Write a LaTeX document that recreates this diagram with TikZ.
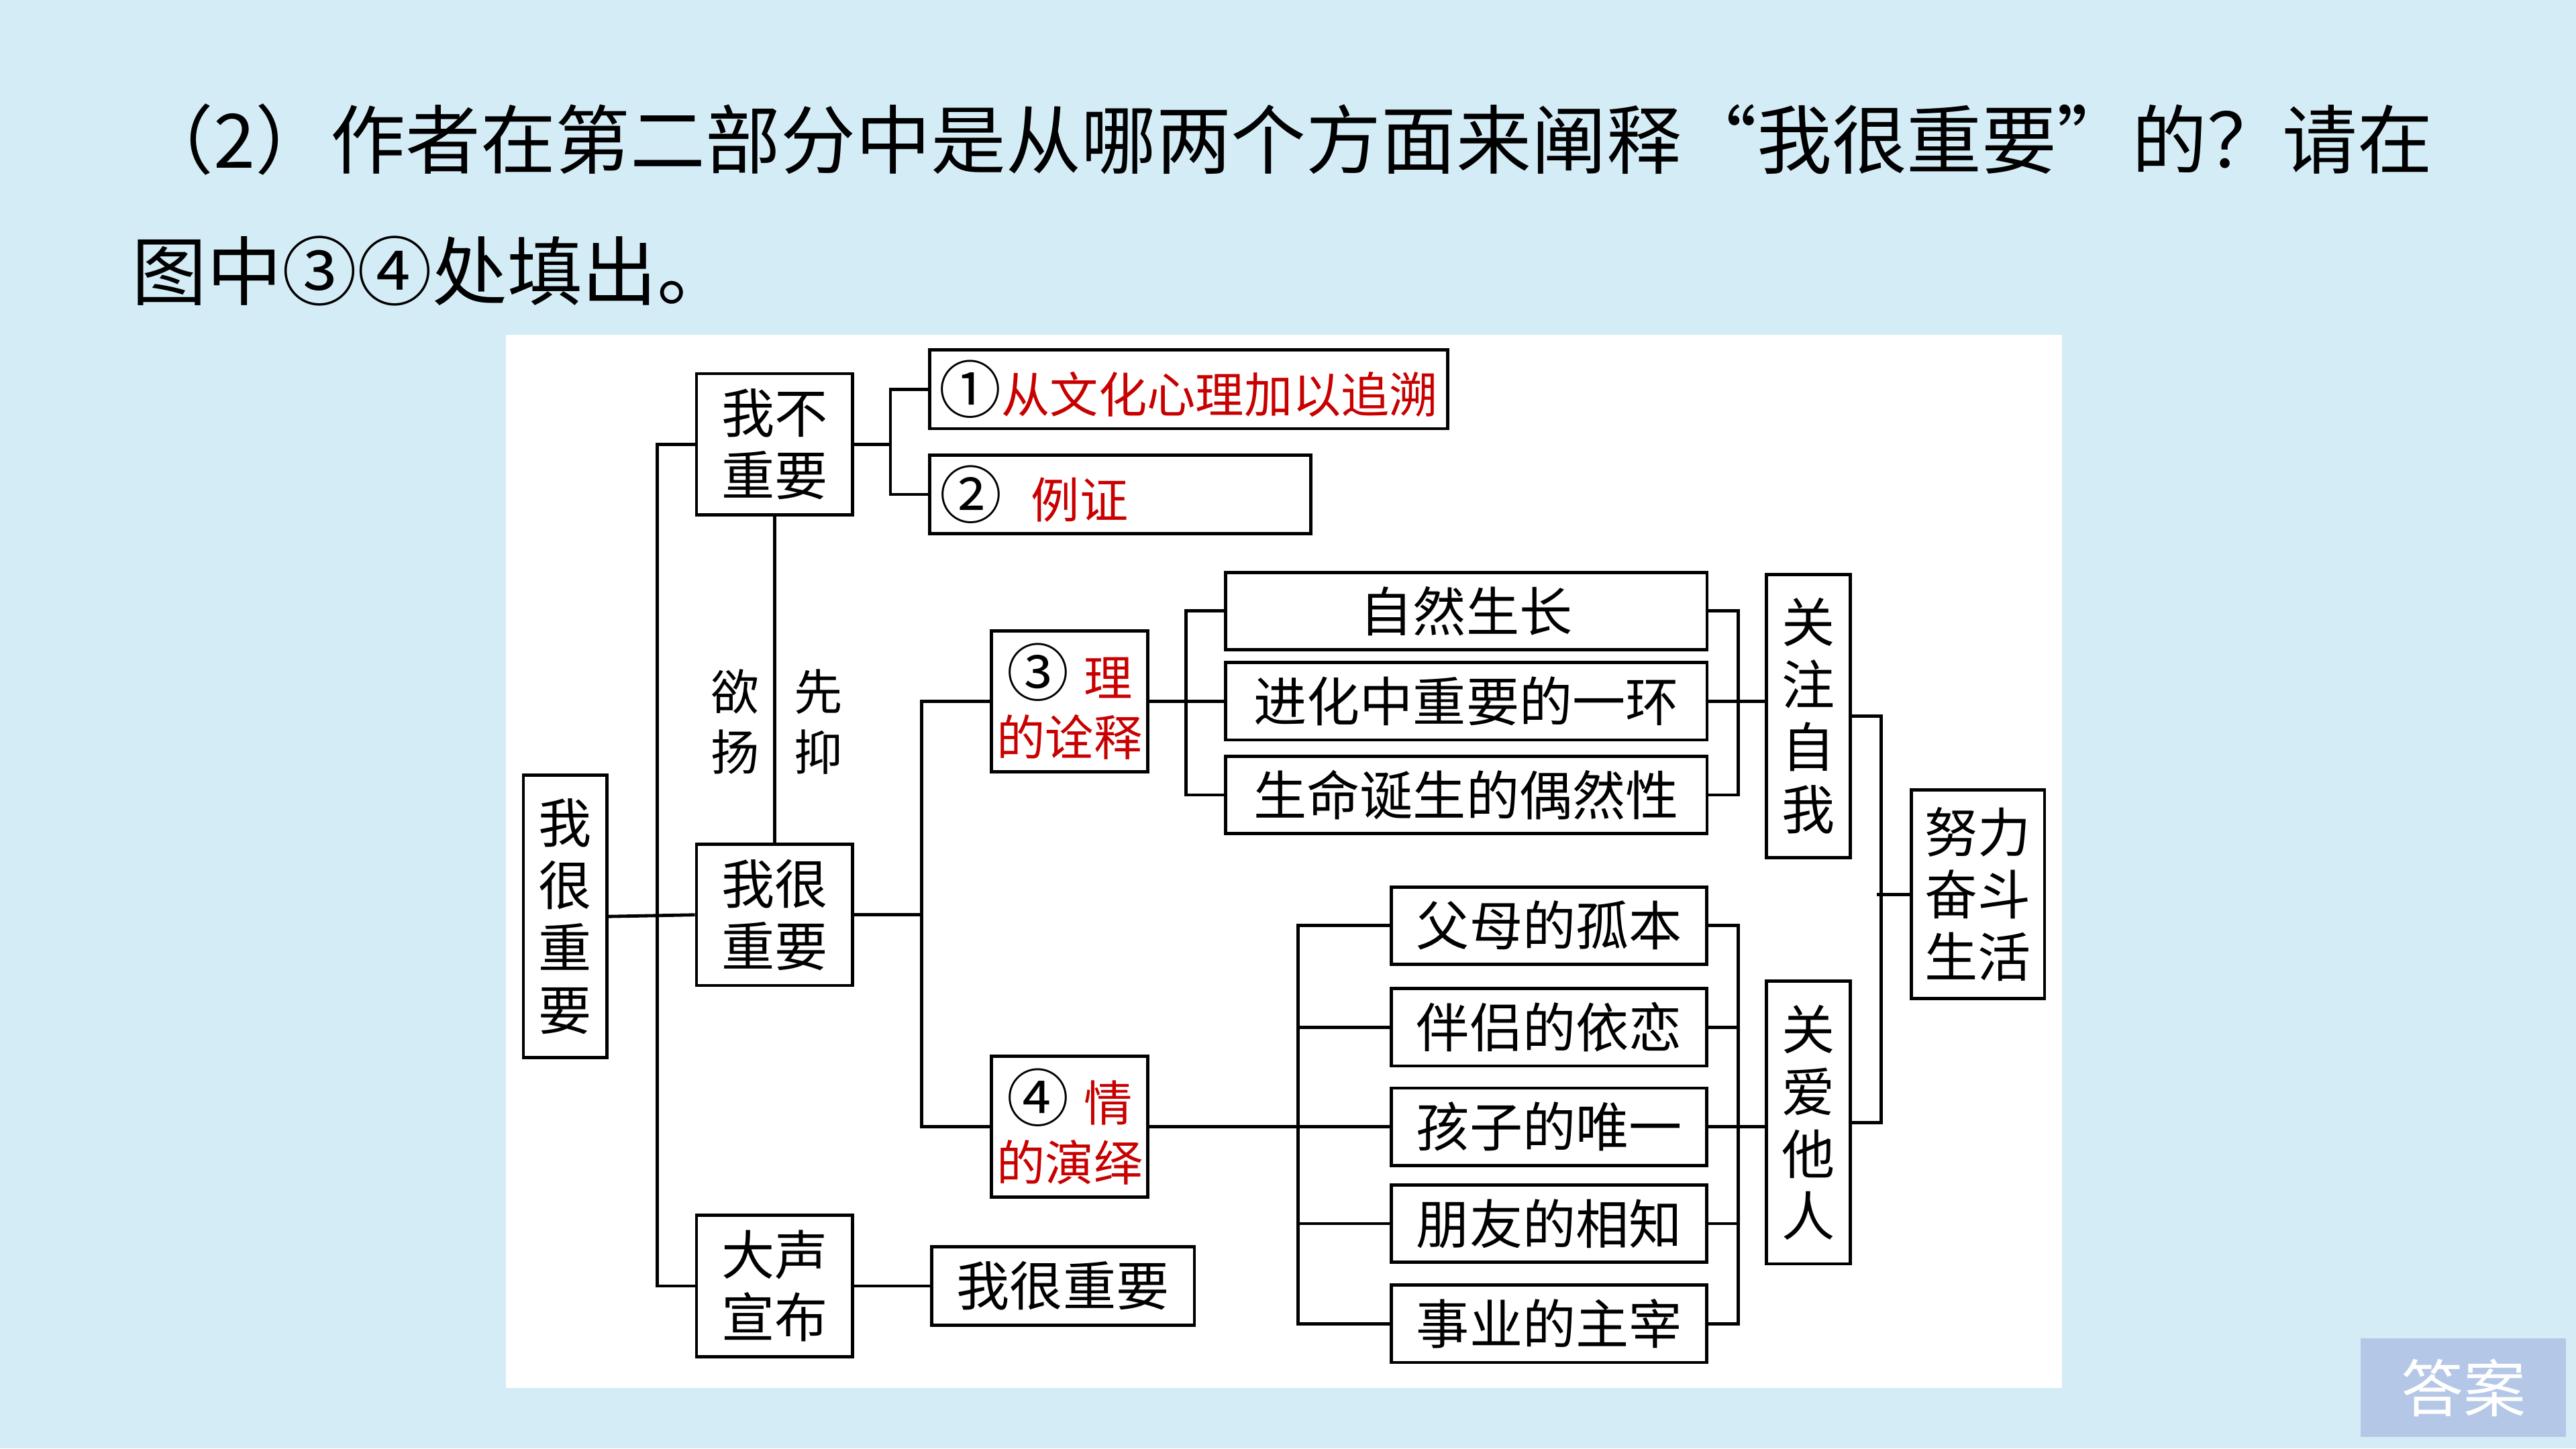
\documentclass[tikz,border=0pt]{standalone}
\usepackage{fontspec}
\setmainfont{Noto Sans CJK SC}
\usepackage{xcolor}
\usepackage{tikz}
\usetikzlibrary{positioning, calc}
\definecolor{mybg}{RGB}{212,236,246}
\definecolor{myred}{RGB}{200,0,0}
\definecolor{myblue}{RGB}{180,199,231}
\newcommand{\circnum}[1]{{\fontsize{27}{27}\selectfont #1}}
\tikzset{
  box/.style={rectangle, draw=black, fill=white, line width=1.4pt,
    inner sep=0pt, align=center, font=\fontsize{23}{27}\selectfont},
  vbox/.style={box, minimum width=1.27cm, minimum height=4.3cm},
  sqbox/.style={box, minimum width=2.375cm, minimum height=2.15cm},
  topbox/.style={box, minimum width=7.325cm, minimum height=1.175cm},
  botbox/.style={box, minimum width=4.8cm, minimum height=1.175cm},
  numbox/.style={box, minimum height=1.2cm, font=\fontsize{21}{25}\selectfont},
  redbox/.style={sqbox, font=\fontsize{21}{26}\selectfont},
  side/.style={inner sep=0pt, align=center, font=\fontsize{21}{26.3}\selectfont},
  title/.style={inner sep=0pt, anchor=west, font=\fontsize{32.5}{36}\selectfont},
  link/.style={line width=1.4pt, draw=black}
}

\begin{document}
\begin{tikzpicture}[x=0.025cm, y=-0.025cm]
  % background
  \fill[mybg] (0,0) rectangle (1568,882);
  \fill[white] (308,204) rectangle (1255,845);

  % question
  \node[title] (q1) at (84,85) {（2）作者在第二部分中是从哪两个方面来阐释“我很重要”的？请在};
  \node[title] (q2) at (80,165) {图中③④处填出。};

  % left part
  \node[vbox] (root) at (344,558) {我\\很\\重\\要};
  \node[sqbox] (bubu) at (471.5,270.5) {我不\\重要};
  \node[sqbox] (henzy) at (471.5,557) {我很\\重要};
  \node[sqbox] (dsxb) at (471.5,783) {大声\\宣布};
  \node[side] (yy) at (447.5,439.5) {欲\\扬};
  \node[side] (xy) at (498,439.5) {先\\抑};
  \node[numbox, minimum width=7.875cm] (zhui) at (723.5,237) {\circnum{①}\textcolor{myred}{从文化心理加以追溯}};
  \node[numbox, minimum width=5.8cm, text width=5.5cm, align=left] (lizh) at (682,301) {\circnum{②}\hspace{0.6em}\textcolor{myred}{例证}};
  \node[box, minimum width=4cm, minimum height=1.2cm] (wz) at (647,783) {我很重要};

  % middle part
  \node[redbox] (li) at (651,427) {\circnum{③}\hspace{0.3em}\textcolor{myred}{理}\\\textcolor{myred}{的诠释}};
  \node[redbox] (qing) at (651,686) {\circnum{④}\hspace{0.3em}\textcolor{myred}{情}\\\textcolor{myred}{的演绎}};
  \node[topbox] (t1) at (892.5,372) {自然生长};
  \node[topbox] (t2) at (892.5,427) {进化中重要的一环};
  \node[topbox] (t3) at (892.5,484) {生命诞生的偶然性};
  \node[botbox] (b1) at (943,563.5) {父母的孤本};
  \node[botbox] (b2) at (943,625.5) {伴侣的依恋};
  \node[botbox] (b3) at (943,686) {孩子的唯一};
  \node[botbox] (b4) at (943,745) {朋友的相知};
  \node[botbox] (b5) at (943,806) {事业的主宰};

  % right part
  \node[vbox] (gz) at (1100.75,436) {关\\注\\自\\我};
  \node[vbox] (ga) at (1100.75,683.5) {关\\爱\\他\\人};
  \node[box, minimum width=2.025cm, minimum height=3.175cm] (nl) at (1204,544.5) {努力\\奋斗\\生活};

  % connectors
  \draw[link] (root.east) -- (henzy.west);
  \draw[link] (bubu.west) -- +(-23,0) |- (dsxb.west);
  \draw[link] (bubu.south) -- (henzy.north);
  \draw[link] (bubu.east) -- +(22,0) |- (zhui.west);
  \draw[link] (bubu.east) -- +(22,0) |- (lizh.west);
  \draw[link] (dsxb.east) -- (wz.west);
  \draw[link] (henzy.east) -- +(41,0) |- (li.west);
  \draw[link] (henzy.east) -- +(41,0) |- (qing.west);
  \draw[link] (li.east) -- (t2.west);
  \draw[link] (t1.west) -- +(-23,0) |- (t3.west);
  \draw[link] (t1.east) -- +(18,0) |- (t3.east);
  \draw[link] (t2.east) -- (t2.east -| gz.west);
  \draw[link] (qing.east) -- (b3.west);
  \draw[link] (b1.west) -- +(-56,0) |- (b5.west);
  \draw[link] (b1.east) -- +(18,0) |- (b5.east);
  \foreach \n in {b2,b4} {
    \draw[link] (\n.west) -- +(-56,0);
    \draw[link] (\n.east) -- +(18,0);
  }
  \draw[link] (b3.east) -- (b3.east -| ga.west);
  \draw[link] (gz.east) -- +(18,0) |- (ga.east);
  \draw[link] (nl.west) -- +(-20,0);

  % answer button
  \node[fill=myblue, minimum width=3.125cm, minimum height=1.5cm, inner sep=0pt,
    text=white, font=\fontsize{27}{30}\selectfont] (ans) at (1499.5,845) {答案};
\end{tikzpicture}
\end{document}
